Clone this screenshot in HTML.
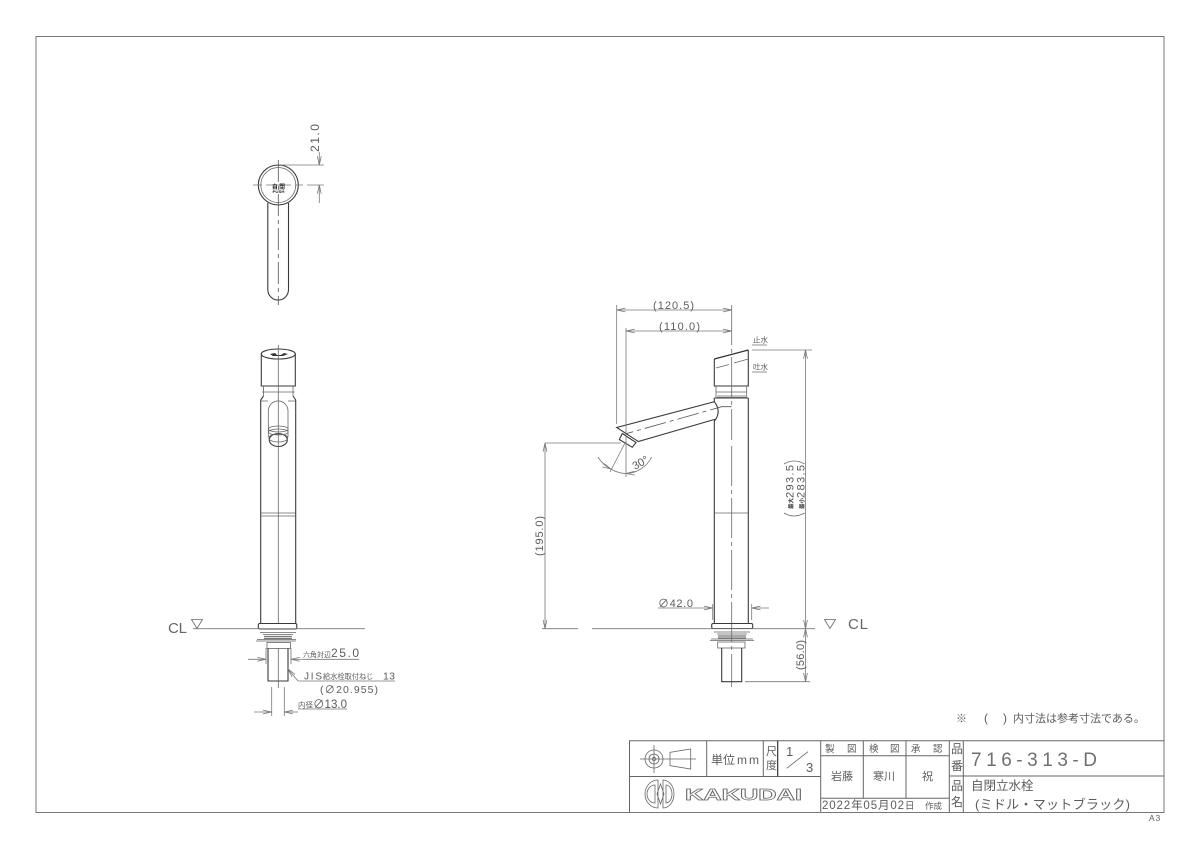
<!DOCTYPE html>
<html><head><meta charset="utf-8">
<style>
html,body{margin:0;padding:0;background:#fff}
svg{display:block}
text{font-family:"Liberation Sans","Noto Sans CJK JP",sans-serif;fill:#5c5c5c}
.b{fill:none;stroke:#3a3a3a;stroke-width:1.1}
.t{fill:none;stroke:#666;stroke-width:.8}
.f{fill:none;stroke:#777;stroke-width:.8}
.c{fill:none;stroke:#555;stroke-width:.8;stroke-dasharray:22 4 4 4}
.d{fill:none;stroke:#777;stroke-width:.8;marker-start:url(#a);marker-end:url(#a)}
.e{fill:none;stroke:#777;stroke-width:.8;marker-end:url(#a)}
.g{fill:none;stroke:#777;stroke-width:1.2}
</style></head><body>
<svg width="1200" height="848" viewBox="0 0 1200 848" xmlns="http://www.w3.org/2000/svg">
<defs>
<marker id="a" viewBox="-1 -4 12 8" refX="10" refY="0" markerWidth="11" markerHeight="7" markerUnits="userSpaceOnUse" orient="auto-start-reverse">
<path d="M0 -2.2L10 0L0 2.2" fill="none" stroke="#777" stroke-width=".9"/>
</marker>
</defs>
<rect width="1200" height="848" fill="#fff"/>
<rect x="36" y="36.500" width="1128" height="776" fill="none" stroke="#777" stroke-width="1"/>

<!-- top view -->
<path class="b" d="M267.800 203V289.500A10.300 10.500 0 0 0 288.500 289.500V203"/>
<circle class="b" cx="278.300" cy="185" r="20"/>
<circle class="t" cx="278.300" cy="185" r="17.500"/>
<path class="c" d="M278.300 160V305" stroke-dasharray="14 4 3 4"/>
<path class="f" d="M253 185H262M266 185H291M295 185H303"/>
<text x="272" y="189" font-size="6" font-weight="bold" style="fill:#222" textLength="13" lengthAdjust="spacingAndGlyphs">自 閉</text>
<text x="272.500" y="193" font-size="3.500" font-weight="bold" style="fill:#222" textLength="12" lengthAdjust="spacingAndGlyphs">PUSH</text>
<path class="f" d="M280 165H324M307 185H324"/>
<path class="e" d="M319.300 152V165"/>
<path class="e" d="M319.300 203V185"/>
<text transform="translate(319 152) rotate(-90)" font-size="12" textLength="28" lengthAdjust="spacing">21.0</text>

<!-- left front view -->
<ellipse class="b" cx="278.300" cy="354" rx="17" ry="5"/>
<path class="b" d="M261.300 354V386H295.300V354"/>
<path class="t" d="M263.500 386V396M293 386V396M262 392H294.500"/>
<path class="b" d="M263.500 396L260.700 400V624M293 396L295.700 400V624"/>
<path class="t" d="M260.700 401H268M288 401H295.700"/>
<path class="t" d="M268.300 437V411A9.800 10 0 0 1 288 411V437"/>
<ellipse class="t" cx="278.300" cy="429" rx="9.800" ry="3"/>
<ellipse class="t" cx="278.300" cy="432" rx="9.800" ry="3"/>
<ellipse class="b" cx="278.300" cy="440" rx="9" ry="6.500"/>
<ellipse class="t" cx="278.300" cy="438" rx="9.500" ry="4"/>
<path class="t" d="M260.700 513H295.700M260.700 516H295.700"/>
<path d="M270 354L275 353L277 355L281 355L284 353L288 354L283 356L273 356Z" fill="#333"/>
<path class="t" d="M278.300 345V624"/>
<rect x="258.300" y="623.500" width="38.500" height="5.500" rx="1.500" class="b"/>
<path class="f" d="M193 628.700H365"/>
<path class="t" d="M191.500 619.500H202.500L197 628.500Z"/>
<text x="168" y="633" font-size="15" textLength="19" lengthAdjust="spacing" style="fill:#666">CL</text>
<path class="t" d="M260 632.500H296M263 634.500H293"/>
<path class="g" d="M264 636.500H292M264 638.500H292"/>
<path class="t" d="M257 639.500H296M256 641H296"/>
<rect x="267" y="642.500" width="23.500" height="6" class="t"/>
<path class="b" d="M268 648.500V681H288V648.500"/>
<path class="t" d="M278.300 648V688"/>
<path class="f" d="M266 648V664M291 648V664"/>
<path class="e" d="M248 659.300H266"/>
<path class="e" d="M303 659.300H291"/>
<path class="f" d="M303 659.300H359"/>
<text x="303" y="657" font-size="7">六角対辺</text>
<text x="331" y="657" font-size="12" textLength="28" lengthAdjust="spacing">25.0</text>
<path class="e" d="M298 681L288 669"/>
<path class="f" d="M298 681H395"/>
<text x="304" y="679.500" font-size="10" textLength="18" lengthAdjust="spacing">JIS</text>
<text x="323" y="679" font-size="7.200">給水栓取付ねじ</text>
<text x="383" y="679.500" font-size="10.500" textLength="12" lengthAdjust="spacing">13</text>
<text x="320" y="693" font-size="10.500" textLength="58" lengthAdjust="spacing">(∅20.955)</text>
<path class="f" d="M271.700 687V716M284.300 687V716"/>
<path class="e" d="M254 712H271.700"/>
<path class="e" d="M298 712H284.300"/>
<path class="f" d="M298 709H347"/>
<text x="298" y="707.500" font-size="7.500">内径</text>
<text x="313" y="708" font-size="11.500" textLength="34" lengthAdjust="spacing">∅13.0</text>

<!-- right side view -->
<path class="b" d="M714.300 359V386H748.300V350"/>
<path d="M714.300 359L748.300 350" stroke="#333" stroke-width="1.300" fill="none"/>
<path class="t" d="M716 386V398M746.700 386V398"/>
<path class="t" d="M716 392H746.700M717 396H746M717 397.500H746"/>
<path class="b" d="M714.300 398H748.300"/>
<path class="b" d="M714.300 398V401.700M716 419L714.300 421V623M748.300 398V623"/>
<path class="b" d="M716 419L638.300 441.500L616.700 427.500L714.300 401.700Q721 410 716 419"/>
<path class="c" d="M731.700 406.700H721.700L625 434" stroke-dasharray="30 4 4 4"/>
<path class="b" d="M622.300 433.500L636 442.500L632.300 447.300L619.300 439.500Z"/>
<path class="t" d="M716 368L729 364.500M734 363L748.300 359"/>
<path class="t" d="M714.300 513H748.300"/>
<path class="t" d="M731.700 305V440M731.700 446V687" stroke-dasharray="40 4 4 4"/>
<path class="f" d="M616.700 305V424M626 328V477"/>
<path class="d" d="M616.700 310H731.700"/>
<path class="d" d="M626 331H731.700"/>
<text x="653" y="309" font-size="11" textLength="41" lengthAdjust="spacing">(120.5)</text>
<text x="659" y="330" font-size="11" textLength="41" lengthAdjust="spacing">(110.0)</text>
<text x="753" y="342.500" font-size="7.500">止水</text><path class="f" d="M752 345H767"/>
<text x="753" y="369.500" font-size="7.500">吐水</text><path class="f" d="M752 372H767"/>
<path class="f" d="M752 350H812M745 681.700H810"/>
<path class="f" d="M545 443H621M625 443L610 472"/>
<path class="d" d="M805.500 350V628.700"/>
<path class="d" d="M805.500 628.700V681.700"/>
<path class="d" d="M545 443V628.700"/>
<path class="e" d="M651.700 457A30 30 0 0 1 626 473.500"/>
<path class="e" d="M598 457A30 30 0 0 0 611 469"/>
<path class="f" d="M611 469A30 30 0 0 0 626 473.500"/>
<text transform="translate(635 470) rotate(-30)" font-size="11">30°</text>
<text transform="translate(543 556) rotate(-90)" font-size="11" textLength="40" lengthAdjust="spacing">(195.0)</text>
<text transform="translate(804 670) rotate(-90)" font-size="11" textLength="30" lengthAdjust="spacing">(56.0)</text>
<text transform="translate(793 509) rotate(-90)" font-size="5.500" font-weight="bold" style="fill:#333">最大</text>
<text transform="translate(793.500 498) rotate(-90)" font-size="11" textLength="33" lengthAdjust="spacing">293.5</text>
<text transform="translate(804 509) rotate(-90)" font-size="5.500" font-weight="bold" style="fill:#333">最小</text>
<text transform="translate(804.500 498) rotate(-90)" font-size="11" textLength="33" lengthAdjust="spacing">283.5</text>
<path class="t" d="M784 464Q794 458 804.500 464M784 513Q794 519 804.500 513"/>
<rect x="711.700" y="623.500" width="41" height="5" rx="1.500" class="b"/>
<path class="f" d="M542 628.700H578M592 628.700H815"/>
<path class="t" d="M824.500 619.500H835.500L830 628.500Z"/>
<text x="848" y="629" font-size="15" textLength="20" lengthAdjust="spacing" style="fill:#666">CL</text>
<path class="t" d="M714 632H750M717 634H747"/>
<path class="g" d="M718 636H746M718 638H746"/>
<path class="t" d="M711 639H753M710 640.500H754"/>
<rect x="717.700" y="642" width="27.300" height="6" class="t"/>
<path class="b" d="M721.700 648V681.700H741.700V648"/>
<path class="e" d="M658 608H712.700"/>
<path class="e" d="M769 608H751.700"/>
<path class="f" d="M712.700 604V620M751.700 604V620"/>
<text x="658" y="607" font-size="11" textLength="35" lengthAdjust="spacing">∅42.0</text>

<!-- note -->
<text x="956" y="722" font-size="11">※</text>
<text x="984" y="722" font-size="12">(</text>
<text x="1003" y="722" font-size="12">)</text>
<text x="1013" y="722" font-size="11">内寸法は参考寸法である。</text>

<!-- title block -->
<path d="M629.500 812V740.700H1164M629.500 776.500H820.700M820.700 740.700V812M706.700 740.700V776.500M763.300 740.700V776.500M820.700 755.700H949.300M863.300 740.700V798.300M906 740.700V798.300M820.700 798.300H949.300M949.300 740.700V812M963.300 740.700V812M949.300 776H1164" fill="none" stroke="#666" stroke-width="1"/>
<path d="M777.700 740.700V776.500" stroke="#333" stroke-width="1.200"/>
<circle class="t" cx="654" cy="759" r="9"/><circle class="t" cx="654" cy="759" r="5"/><circle class="t" cx="654" cy="759" r="1.800"/>
<path class="t" d="M654 745V773M640 759H668M670 752.300V765.700L690.700 769V749ZM665 759H696"/>
<text x="711" y="764" font-size="12">単位</text>
<text x="737" y="764" font-size="12" letter-spacing="2">mm</text>
<text x="766" y="755" font-size="11">尺</text>
<text x="766" y="769" font-size="11">度</text>
<text x="786" y="756" font-size="13">1</text>
<path class="t" d="M786.700 768.300L808 751.700"/>
<text x="806" y="772" font-size="13">3</text>
<g font-size="9.500">
<text x="825" y="752">製</text><text x="847" y="752">図</text>
<text x="869" y="752">検</text><text x="890" y="752">図</text>
<text x="911" y="752">承</text><text x="933" y="752">認</text>
</g>
<g font-size="11">
<text x="831" y="780">岩藤</text><text x="873" y="780">寒川</text><text x="922" y="780">祝</text>
</g>
<text x="822" y="809" font-size="11.500" textLength="82" lengthAdjust="spacing">2022年05月02</text>
<text x="905" y="809" font-size="9.500">日</text>
<text x="925" y="809" font-size="8.500">作成</text>
<g font-size="12">
<text x="951" y="753">品</text><text x="951" y="770">番</text>
<text x="951" y="790">品</text><text x="951" y="806">名</text>
</g>
<text x="971" y="766" font-size="19" textLength="126" lengthAdjust="spacing" style="fill:#707070">716-313-D</text>
<text x="971" y="790" font-size="12.500">自閉立水栓</text>
<text x="975" y="809" font-size="13" textLength="155" lengthAdjust="spacing">(ミドル・マットブラック)</text>
<text x="1149" y="821" font-size="8.500" letter-spacing=".8">A3</text>
<!-- logo -->
<path class="t" stroke-width="1" d="M658 780A13 14 0 0 0 658 808ZM663 780A11 14 0 0 1 663 808ZM655 785A8 9 0 0 0 655 803ZM666 785A6 9 0 0 1 666 803ZM660.500 784L657 794L660.500 804L664 794Z"/>
<text x="685" y="800" font-size="16" font-weight="bold" textLength="117" lengthAdjust="spacingAndGlyphs" style="fill:#fff;stroke:#666;stroke-width:.7">KAKUDAI</text>
</svg>
</body></html>
